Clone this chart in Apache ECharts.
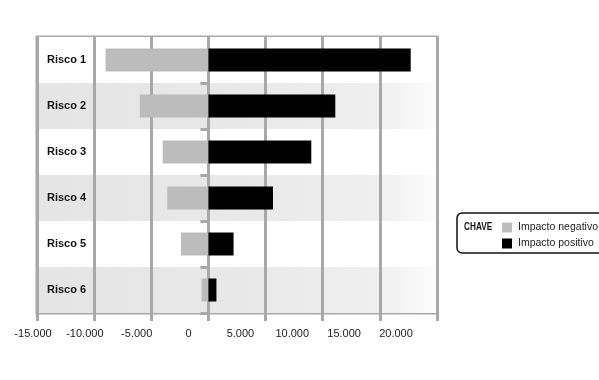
<!DOCTYPE html>
<html>
<head>
<meta charset="utf-8">
<script src="https://cdn.jsdelivr.net/npm/echarts@6/dist/echarts.min.js"></script>
<style>html,body{margin:0;padding:0;background:#fff;}#c{width:599px;height:380px;}</style>
</head>
<body>
<div id="c"></div>
<script>
const categories = ['Risco 1', 'Risco 2', 'Risco 3', 'Risco 4', 'Risco 5', 'Risco 6'];
const negativeImpact = [-9000, -6000, -4000, -3600, -2400, -600];
const positiveImpact = [17700, 11100, 9000, 5650, 2200, 700];
const seriesNames = ['Impacto negativo', 'Impacto positivo'];
const axisMin = -15000;
const axisMax = 20000;
const axisStep = 5000;
const legendTitle = 'CHAVE';

const GRID = '#a8a8a8';
const fmt = v => {
  const s = Math.abs(v).toString().replace(/\B(?=(\d{3})+(?!\d))/g, '.');
  return (v < 0 ? '-' : '') + s;
};
const rowGrad = {
  type: 'linear', x: 0, y: 0, x2: 1, y2: 0,
  colorStops: [
    {offset: 0, color: '#e5e5e5'},
    {offset: 0.5, color: '#e8e8e8'},
    {offset: 0.85, color: '#efefef'},
    {offset: 1, color: '#fcfcfc'}
  ]
};

const chart = echarts.init(document.getElementById('c'));
chart.setOption({
  animation: false,
  backgroundColor: '#fff',
  grid: [
    {left: 37, right: 162, top: 37, bottom: 67, show: true, borderColor: GRID, borderWidth: 3, backgroundColor: 'transparent'},
    {left: 33, right: 203, top: 37, bottom: 67, show: false}
  ],
  xAxis: [
    {
      type: 'value', gridIndex: 0, min: axisMin, max: axisMax, interval: axisStep,
      axisLine: {show: false, onZero: false},
      axisTick: {show: true, length: 8, lineStyle: {color: GRID, width: 3}},
      axisLabel: {show: false},
      splitLine: {show: true, lineStyle: {color: GRID, width: 3}}
    },
    {
      type: 'value', gridIndex: 1, min: axisMin, max: axisMax, interval: axisStep,
      axisLine: {show: false}, axisTick: {show: false}, splitLine: {show: false},
      axisLabel: {show: true, margin: 15, formatter: fmt, color: '#222', fontSize: 11, fontFamily: 'Liberation Sans, Arial, sans-serif'}
    }
  ],
  yAxis: [
    {
      type: 'category', gridIndex: 0, data: categories, inverse: true,
      axisLine: {show: true, onZero: true, lineStyle: {color: GRID, width: 3}},
      axisTick: {show: true, length: 8, interval: (i) => i !== 0, lineStyle: {color: GRID, width: 3}},
      axisLabel: {show: false},
      splitLine: {show: false},
      splitArea: {show: true, areaStyle: {color: ['#ffffff', rowGrad]}}
    },
    {
      type: 'category', gridIndex: 0, data: categories, inverse: true, position: 'left',
      axisLine: {show: false, onZero: false}, axisTick: {show: false},
      axisLabel: {show: true, inside: true, margin: 10, color: '#111', fontWeight: 'bold', fontSize: 11, fontFamily: 'Liberation Sans, Arial, sans-serif'}
    },
    {type: 'value', gridIndex: 1, show: false}
  ],
  legend: {
    orient: 'vertical', left: 502, top: 222, padding: 0, itemWidth: 10, itemHeight: 10, itemGap: 5,
    icon: 'rect', data: seriesNames,
    textStyle: {color: '#222', fontSize: 10.5, fontFamily: 'Liberation Sans, Arial, sans-serif', padding: [0, 0, 0, 1]}
  },
  graphic: [
    {type: 'rect', shape: {x: 457, y: 213, width: 160, height: 40, r: 5}, style: {fill: 'none', stroke: '#111', lineWidth: 1.5}, z: 10},
    {type: 'text', x: 464, y: 221, scaleX: 0.75, style: {text: legendTitle, fill: '#111', font: 'bold 11px "Liberation Sans", Arial, sans-serif'}, z: 10}
  ],
  series: [
    {name: seriesNames[0], type: 'bar', xAxisIndex: 0, yAxisIndex: 0, data: negativeImpact, barWidth: '50%', barGap: '-100%', itemStyle: {color: '#bcbcbc'}, z: 3},
    {name: seriesNames[1], type: 'bar', xAxisIndex: 0, yAxisIndex: 0, data: positiveImpact, barWidth: '50%', barGap: '-100%', itemStyle: {color: '#000'}, z: 3}
  ]
});
</script>
</body>
</html>
